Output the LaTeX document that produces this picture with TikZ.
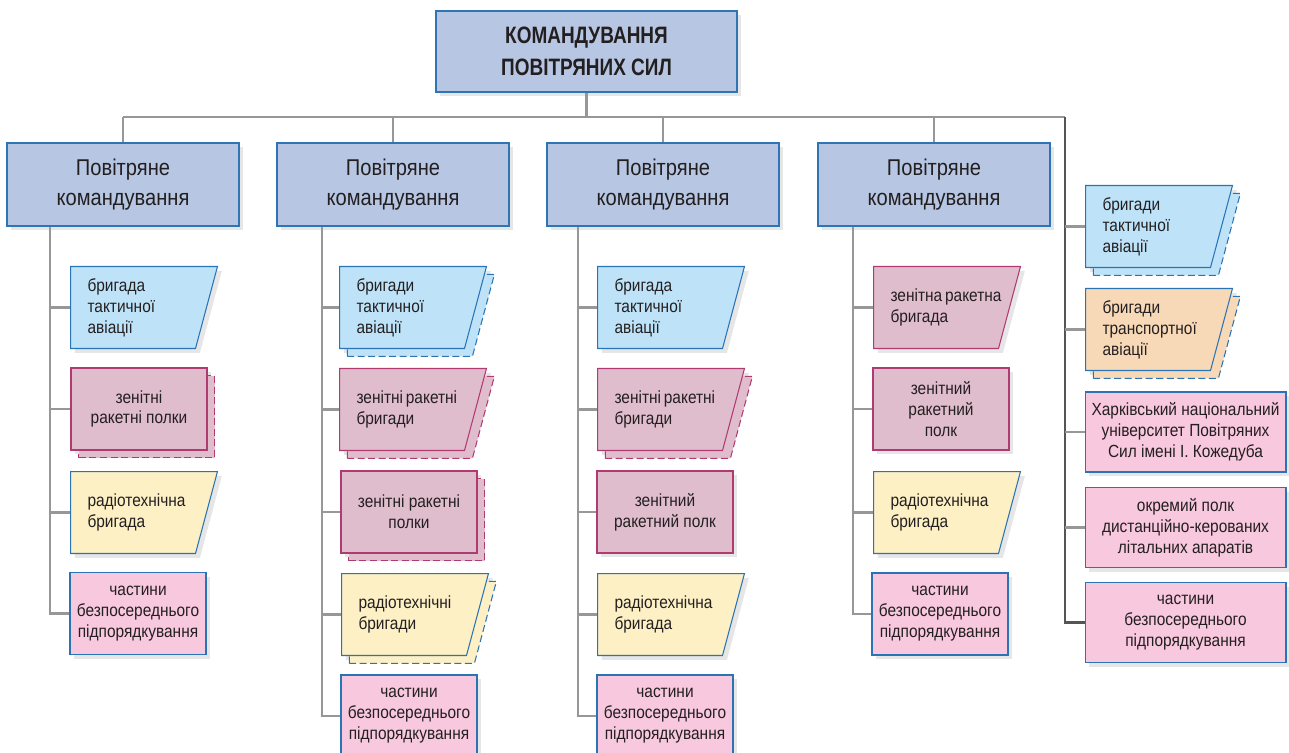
\documentclass[tikz,border=0pt]{standalone}
\usepackage{fontspec}
\setmainfont[FakeStretch=0.88]{Liberation Sans}
\newfontfamily\titlefont[FakeStretch=0.8]{Liberation Sans}
\usetikzlibrary{shapes.geometric, shadows}

\definecolor{hqfill}{HTML}{B7C7E3}
\definecolor{hqline}{HTML}{2E75B6}
\definecolor{tacfill}{HTML}{BEE3F8}
\definecolor{samfill}{HTML}{E0BDCD}
\definecolor{samline}{HTML}{B03A72}
\definecolor{radfill}{HTML}{FDF0C4}
\definecolor{unitfill}{HTML}{F8C8DE}
\definecolor{trnfill}{HTML}{F7D9B7}
\definecolor{boxline}{HTML}{2A74B6}
\definecolor{ink}{HTML}{231F20}
\definecolor{wire}{HTML}{979797}
\definecolor{spine}{HTML}{555555}

\begin{document}
\begin{tikzpicture}[x=0.02cm, y=-0.02cm,
    every node/.style={text=ink},
    wire/.style={draw=wire, line width=1.3pt},
    shade/.style={drop shadow={opacity=0.2, shadow xshift=2.5pt, shadow yshift=-2.5pt}},
    twin/.style={copy shadow={shadow xshift=4.5pt, shadow yshift=-4.5pt, dash pattern=on 4pt off 2pt, line width=0.6pt, #1}},
    topbox/.style={rectangle, draw=hqline, fill=hqfill, line width=0.7pt, shade,
        minimum width=6.02cm, minimum height=1.62cm, align=center,
        font=\titlefont\bfseries\fontsize{13.5pt}{18pt}\selectfont},
    hq/.style={rectangle, draw=hqline, fill=hqfill, line width=0.7pt, shade,
        minimum width=4.64cm, minimum height=1.66cm, align=center,
        font=\fontsize{13pt}{17pt}\selectfont},
    unit/.style={rectangle, draw=boxline, fill=unitfill, line width=0.6pt, shade,
        minimum width=2.72cm, minimum height=1.64cm, align=center, inner sep=2pt,
        font=\fontsize{10pt}{11.9pt}\selectfont},
    wide/.style={unit, minimum width=4.02cm, minimum height=1.6cm},
    slant/.style={trapezium, trapezium left angle=90, trapezium right angle=105,
        anchor=top left corner, draw=boxline, inner xsep=0.34cm, inner ysep=0pt,
        line width=0.6pt, shade, font=\fontsize{10pt}{11.9pt}\selectfont,
        execute at begin node={\begin{minipage}[c][1.64cm][c]{1.82cm}\raggedright},
        execute at end node={\end{minipage}}}
]
    \useasboundingbox (0,0) rectangle (1289,753);

    \node[topbox] (hq) at (586.5,51.5) {КОМАНДУВАННЯ\\ПОВІТРЯНИХ СИЛ};

    \foreach \x/\n in {123/c1, 393/c2, 663/c3, 934/c4} {
        \node[hq] (\n) at (\x,184.5) {Повітряне\\командування};
    }

    % first command
    \node[slant, fill=tacfill] (c1a) at (70,266) {бригада\\тактичної\\авіації};
    \node[unit, fill=samfill, draw=samline, twin={fill=samfill, draw=samline}] (c1b) at (139,409) {зенітні\\ракетні полки};
    \node[slant, fill=radfill] (c1c) at (70,471) {радіотехнічна\\бригада};
    \node[unit] (c1d) at (138,613.5) {частини\\безпосереднього\\підпорядкування};

    % second command
    \node[slant, fill=tacfill, twin={fill=tacfill, draw=boxline}] (c2a) at (339,266) {бригади\\тактичної\\авіації};
    \node[slant, fill=samfill, draw=samline, twin={fill=samfill, draw=samline}] (c2b) at (339,368) {зенітні~ракетні\\бригади};
    \node[unit, fill=samfill, draw=samline, twin={fill=samfill, draw=samline}] (c2c) at (409,512) {зенітні ракетні\\полки};
    \node[slant, fill=radfill, twin={fill=radfill, draw=boxline}] (c2d) at (341,573) {радіотехнічні\\бригади};
    \node[unit] (c2e) at (409,716) {частини\\безпосереднього\\підпорядкування};

    % third command
    \node[slant, fill=tacfill] (c3a) at (597,266) {бригада\\тактичної\\авіації};
    \node[slant, fill=samfill, draw=samline, twin={fill=samfill, draw=samline}] (c3b) at (597,368) {зенітні~ракетні\\бригади};
    \node[unit, fill=samfill, draw=samline] (c3c) at (665,512) {зенітний\\ракетний полк};
    \node[slant, fill=radfill] (c3d) at (597,573) {радіотехнічна\\бригада};
    \node[unit] (c3e) at (665,716) {частини\\безпосереднього\\підпорядкування};

    % fourth command
    \node[slant, fill=samfill, draw=samline] (c4a) at (873,266) {зенітна~ракетна\\бригада};
    \node[unit, fill=samfill, draw=samline] (c4b) at (941,409) {зенітний\\ракетний\\полк};
    \node[slant, fill=radfill] (c4c) at (873,471) {радіотехнічна\\бригада};
    \node[unit] (c4d) at (940,614) {частини\\безпосереднього\\підпорядкування};

    % directly subordinate
    \node[slant, fill=tacfill, twin={fill=tacfill, draw=boxline}] (c5a) at (1085,185) {бригади\\тактичної\\авіації};
    \node[slant, fill=trnfill, twin={fill=trnfill, draw=boxline}] (c5b) at (1085,288) {бригади\\транспортної\\авіації};
    \node[wide] (c5c) at (1185.5,432) {Харківський національний\\університет Повітряних\\Сил імені І. Кожедуба};
    \node[wide] (c5d) at (1185.5,527.5) {окремий полк\\дистанційно-керованих\\літальних апаратів};
    \node[wide] (c5e) at (1185.5,622.5) {частини\\безпосереднього\\підпорядкування};

    % connectors
    \coordinate (busL) at (123,117);
    \coordinate (busR) at (1065,117);
    \draw[wire] (hq.south) -- (hq.south |- busL);
    \draw[wire] (busL) -- (busR);
    \foreach \n in {c1, c2, c3, c4} {
        \draw[wire] (\n.north |- busL) -- (\n.north);
    }

    \draw[wire] (c1.south -| 50,0) |- (c1d.west);
    \foreach \n in {c1a, c1b, c1c} \draw[wire] (\n.west -| 50,0) -- (\n.west);
    \draw[wire] (c2.south -| 322,0) |- (c2e.west);
    \foreach \n in {c2a, c2b, c2c, c2d} \draw[wire] (\n.west -| 322,0) -- (\n.west);
    \draw[wire] (c3.south -| 578,0) |- (c3e.west);
    \foreach \n in {c3a, c3b, c3c, c3d} \draw[wire] (\n.west -| 578,0) -- (\n.west);
    \draw[wire] (c4.south -| 853,0) |- (c4d.west);
    \foreach \n in {c4a, c4b, c4c} \draw[wire] (\n.west -| 853,0) -- (\n.west);

    \draw[wire, draw=spine] (busR) |- (c5e.west);
    \foreach \n in {c5a, c5b, c5c, c5d} \draw[wire] (busR |- \n.west) -- (\n.west);

\end{tikzpicture}
\end{document}
